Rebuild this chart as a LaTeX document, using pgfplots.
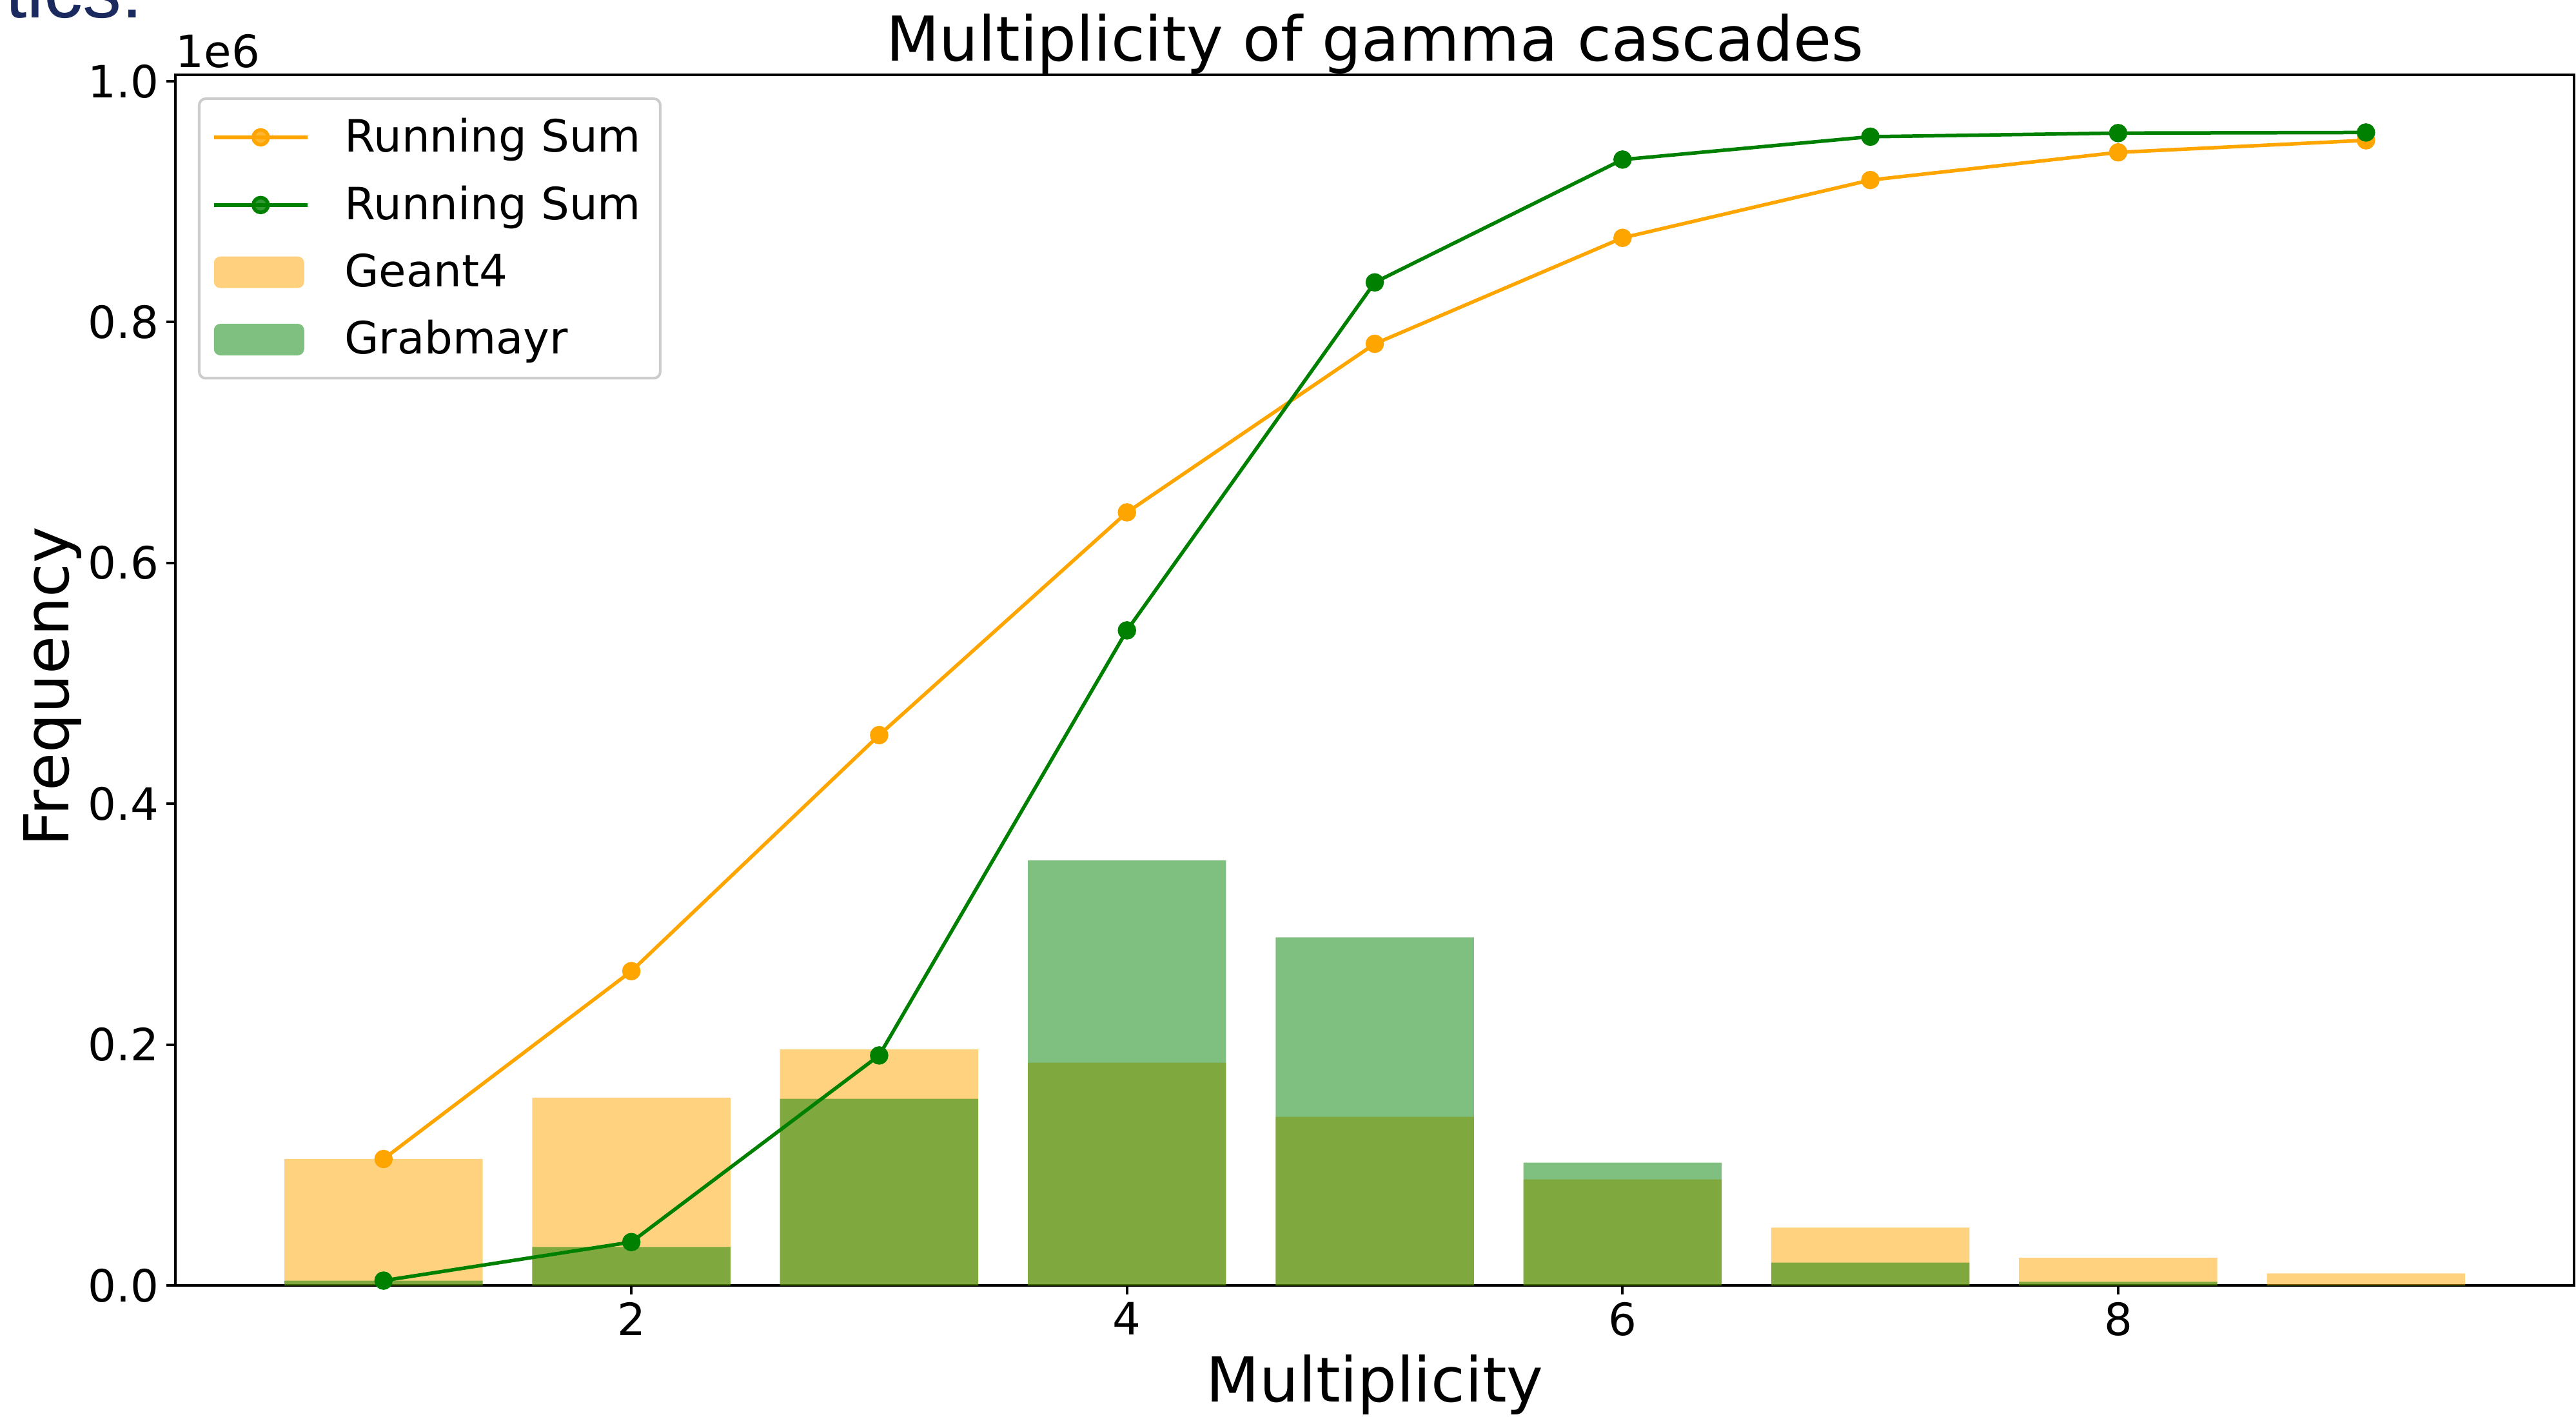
\documentclass[border=0pt]{standalone}
\usepackage{pgfplots}
\pgfplotsset{compat=1.18}
\usepackage{fontspec}
\setmainfont{DejaVu Sans}
\newfontfamily\slidefont{Liberation Sans}
\definecolor{mplorange}{HTML}{FFA500}
\definecolor{mplgreen}{HTML}{008000}
\definecolor{slidenavy}{HTML}{1B2A5E}
\pgfplotsset{
  orangeline legend/.style={legend image code/.code={\draw[mplorange, line width=1.1pt, mark=*, mark size=2.3pt, mark repeat=2, mark phase=2] plot coordinates {(0pt,0pt) (14.5pt,0pt) (29pt,0pt)};}},
  greenline legend/.style={legend image code/.code={\draw[mplgreen, line width=1.1pt, mark=*, mark size=2.3pt, mark repeat=2, mark phase=2] plot coordinates {(0pt,0pt) (14.5pt,0pt) (29pt,0pt)};}},
  orangebar legend/.style={legend image code/.code={\fill[mplorange, fill opacity=0.5] (0pt,-4.9pt) rectangle (28pt,4.9pt);}},
  greenbar legend/.style={legend image code/.code={\fill[mplgreen, fill opacity=0.5] (0pt,-4.9pt) rectangle (28pt,4.9pt);}},
}
\begin{document}
\begin{tikzpicture}
\useasboundingbox (0,0) rectangle (799pt,439.2pt);
\node[anchor=base east, text=slidenavy, font=\slidefont\fontsize{24}{24}\selectfont, inner sep=0pt] at (44.5pt,433.6pt) {tics:};
\begin{axis}[
  at={(54.4pt,40.6pt)}, anchor=south west,
  scale only axis, width=744pt, height=375.4pt,
  xmin=0.16, xmax=9.84, ymin=0, ymax=1.0054,
  clip mode=individual,
  axis line style={line width=0.8pt, black},
  xtick={2,4,6,8},
  ytick={0,0.2,0.4,0.6,0.8,1.0},
  /pgf/number format/assume math mode=true,
  tick align=outside, xtick pos=left, ytick pos=left,
  major tick length=2.8pt,
  tick style={line width=0.8pt, black},
  tick label style={font=\fontsize{13.8}{16}\selectfont},
  xticklabel style={inner sep=2.2pt},
  yticklabel style={inner sep=2.1pt, /pgf/number format/fixed, /pgf/number format/fixed zerofill, /pgf/number format/precision=1},
  xlabel={Multiplicity},
  xlabel style={font=\fontsize{19.2}{22}\selectfont, at={(axis description cs:0.5,-0.0964)}, anchor=base, inner sep=0pt},
  ylabel={Frequency},
  ylabel style={font=\fontsize{19.2}{22}\selectfont, at={(axis description cs:-0.04435,0.4947)}, anchor=base, inner sep=0pt},
  legend cell align=left,
  legend style={at={(axis description cs:0,1)}, anchor=north west, xshift=7pt, yshift=-7pt,
    draw=black!20, line width=0.8pt, rounded corners=2pt, fill=white, fill opacity=0.8, text opacity=1,
    font=\fontsize{13.8}{16}\selectfont, inner xsep=4pt, inner ysep=4pt, row sep=5pt,
    /tikz/every odd column/.append style={column sep=9pt}},
]
\addlegendimage{orangeline legend}
\addlegendimage{greenline legend}
% Geant4 bars (units of 1e6)
\addplot[ybar, bar width=0.8, bar shift=0pt, fill=mplorange, fill opacity=0.5, draw=none, orangebar legend]
  coordinates {(1,0.105) (2,0.156) (3,0.196) (4,0.185) (5,0.140) (6,0.088) (7,0.048) (8,0.023) (9,0.010)};
% Grabmayr bars
\addplot[ybar, bar width=0.8, bar shift=0pt, fill=mplgreen, fill opacity=0.5, draw=none, greenbar legend]
  coordinates {(1,0.004) (2,0.032) (3,0.155) (4,0.353) (5,0.289) (6,0.102) (7,0.019) (8,0.003) (9,0.0005)};
% Running sums
\addplot[mplorange, line width=1.1pt, mark=*, mark size=2.3pt, forget plot]
  coordinates {(1,0.105) (2,0.261) (3,0.457) (4,0.642) (5,0.782) (6,0.870) (7,0.918) (8,0.941) (9,0.951)};
\addplot[mplgreen, line width=1.1pt, mark=*, mark size=2.3pt, forget plot]
  coordinates {(1,0.004) (2,0.036) (3,0.191) (4,0.544) (5,0.833) (6,0.935) (7,0.954) (8,0.957) (9,0.9575)};
\legend{Running Sum, Running Sum, Geant4, Grabmayr}
\node[anchor=base, inner sep=0pt, font=\fontsize{19.2}{22}\selectfont] at (axis description cs:0.5,1.0117) {Multiplicity of gamma cascades};
\node[anchor=base west, inner sep=0pt, font=\fontsize{13.8}{16}\selectfont] at (axis description cs:0,1.0059) {1e6};
\end{axis}
\end{tikzpicture}
\end{document}
